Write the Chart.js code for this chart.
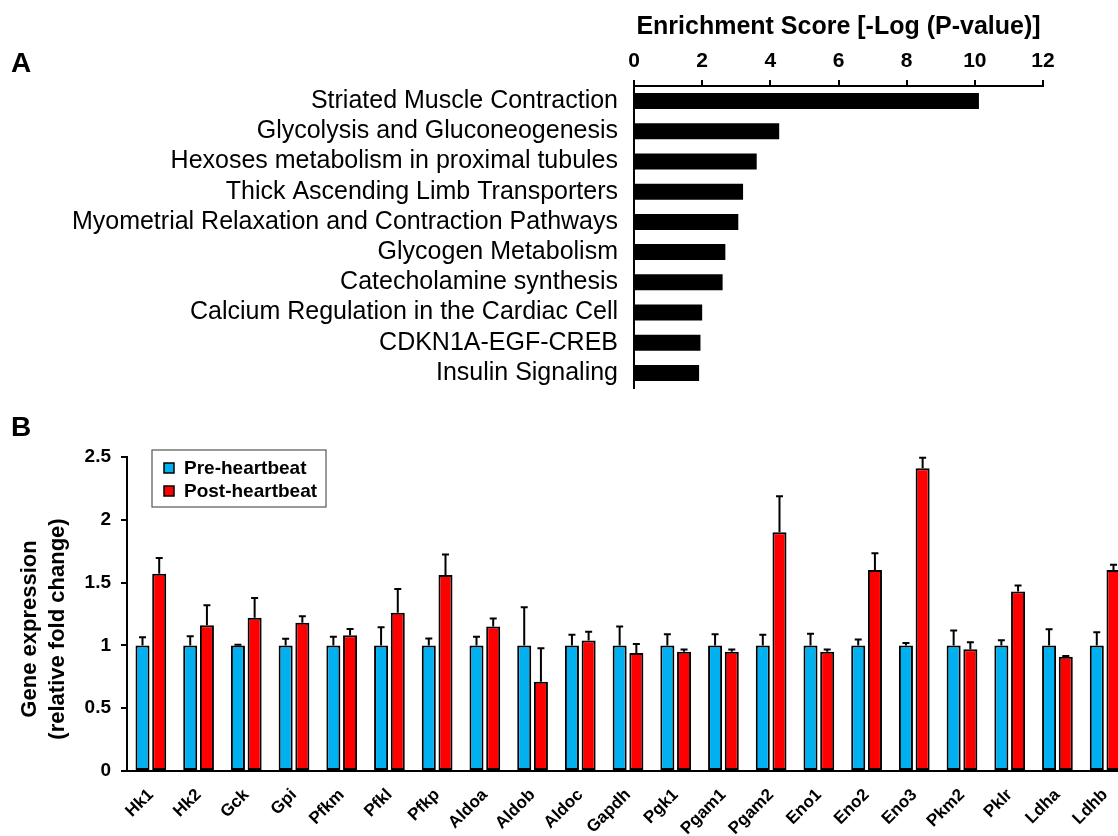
<!DOCTYPE html>
<html>
<head>
<meta charset="utf-8">
<script src="https://cdn.jsdelivr.net/npm/chart.js@4"></script>
<style>
  html, body { margin: 0; padding: 0; background: #fff; overflow: hidden; }
  #page { position: relative; width: 1118px; height: 836px; overflow: hidden; font-family: "Liberation Sans", Arial, sans-serif; }
  .panel-letter { position: absolute; font-weight: bold; font-size: 28px; line-height: normal; color: #000; }
  #chartA { position: absolute; left: 0; top: 0; }
  #chartB { position: absolute; left: 0; top: 400px; }
</style>
</head>
<body>
<div id="page">
  <canvas id="chartA" width="1118" height="400"></canvas>
  <canvas id="chartB" width="1130" height="436"></canvas>
  <div class="panel-letter" style="left:11px; top:47px;">A</div>
  <div class="panel-letter" style="left:11px; top:411px;">B</div>
</div>
<script>
// Panel A: pathway enrichment
const pathways = [
    'Striated Muscle Contraction',
    'Glycolysis and Gluconeogenesis',
    'Hexoses metabolism in proximal tubules',
    'Thick Ascending Limb Transporters',
    'Myometrial Relaxation and Contraction Pathways',
    'Glycogen Metabolism',
    'Catecholamine synthesis',
    'Calcium Regulation in the Cardiac Cell',
    'CDKN1A-EGF-CREB',
    'Insulin Signaling'
];
const enrichment = [10.12, 4.26, 3.6, 3.2, 3.06, 2.68, 2.6, 2.0, 1.95, 1.91];

// Panel B: gene expression
const genes = ['Hk1', 'Hk2', 'Gck', 'Gpi', 'Pfkm', 'Pfkl', 'Pfkp', 'Aldoa', 'Aldob', 'Aldoc',
    'Gapdh', 'Pgk1', 'Pgam1', 'Pgam2', 'Eno1', 'Eno2', 'Eno3', 'Pkm2', 'Pklr', 'Ldha', 'Ldhb'];
const preValues = [1, 1, 1, 1, 1, 1, 1, 1, 1, 1, 1, 1, 1, 1, 1, 1, 1, 1, 1, 1, 1];
const preErrors = [0.065, 0.073, 0.005, 0.052, 0.068, 0.145, 0.054, 0.068, 0.304, 0.084,
    0.15, 0.089, 0.089, 0.084, 0.092, 0.046, 0.02, 0.118, 0.041, 0.129, 0.105];
const postValues = [1.57, 1.16, 1.22, 1.18, 1.08, 1.26, 1.56, 1.15, 0.71, 1.04,
    0.94, 0.95, 0.95, 1.9, 0.95, 1.6, 2.41, 0.97, 1.43, 0.91, 1.6];
const postErrors = [0.125, 0.16, 0.158, 0.053, 0.05, 0.19, 0.163, 0.064, 0.268, 0.069,
    0.071, 0.018, 0.018, 0.287, 0.018, 0.133, 0.085, 0.056, 0.046, 0.006, 0.043];
const yTicksB = [0, 0.5, 1, 1.5, 2, 2.5];
const yTitleB = ['Gene expression', '(relative fold change)'];

const FONT = '"Liberation Sans", Arial, sans-serif';
Chart.defaults.font.family = FONT;
Chart.defaults.color = '#000';

// keep the plot area where it is, no extra room for edge labels
const noEdgePad = s => { s.paddingTop = 0; s.paddingBottom = 0; s.paddingLeft = 0; s.paddingRight = 0; };

new Chart(document.getElementById('chartA').getContext('2d'), {
    type: 'bar',
    data: {
        labels: pathways,
        datasets: [{
            data: enrichment,
            backgroundColor: '#000',
            borderWidth: 0,
            barPercentage: 0.53,
            categoryPercentage: 1
        }]
    },
    options: {
        indexAxis: 'y',
        responsive: false,
        animation: false,
        layout: { padding: { left: 0, right: 75, top: 0, bottom: 12 } },
        plugins: { legend: { display: false }, tooltip: { enabled: false } },
        scales: {
            x: {
                position: 'top',
                min: 0, max: 12,
                ticks: { stepSize: 2, font: { size: 21, weight: 'bold' }, padding: 6 },
                grid: { drawOnChartArea: false, drawTicks: true, tickLength: 6, color: '#000', lineWidth: 2 },
                border: { color: '#000', width: 2 },
                title: {
                    display: true,
                    text: 'Enrichment Score [-Log (P-value)]',
                    font: { size: 25, weight: 'bold' },
                    padding: { top: 12, bottom: 0 }
                },
                afterFit: s => { s.height = 86; noEdgePad(s); }
            },
            y: {
                ticks: { font: { size: 25 }, padding: 8, autoSkip: false },
                grid: { display: false },
                border: { color: '#000', width: 2 },
                afterFit: s => { s.width = 634; noEdgePad(s); }
            }
        }
    }
});

// draws upward error bars for each dataset
const errorBars = {
    id: 'errorBars',
    afterDatasetsDraw(chart) {
        const ctx = chart.ctx;
        const yScale = chart.scales.y;
        chart.data.datasets.forEach((ds, i) => {
            const meta = chart.getDatasetMeta(i);
            meta.data.forEach((bar, j) => {
                const top = yScale.getPixelForValue(ds.data[j] + ds.errors[j]);
                ctx.save();
                ctx.strokeStyle = '#000';
                ctx.lineWidth = 2;
                ctx.beginPath();
                ctx.moveTo(bar.x, bar.y);
                ctx.lineTo(bar.x, top);
                ctx.moveTo(bar.x - 3.5, top);
                ctx.lineTo(bar.x + 3.5, top);
                ctx.stroke();
                ctx.restore();
            });
        });
    }
};

// boxed legend inside the plot, top left
const boxLegend = {
    id: 'boxLegend',
    afterDraw(chart) {
        const ctx = chart.ctx;
        const a = chart.chartArea;
        const x = a.left + 25, y = a.top - 7;
        ctx.save();
        ctx.fillStyle = '#fff';
        ctx.fillRect(x, y, 174, 57);
        ctx.strokeStyle = '#555';
        ctx.lineWidth = 1.2;
        ctx.strokeRect(x, y, 174, 57);
        ctx.font = 'bold 19px ' + FONT;
        ctx.textBaseline = 'middle';
        chart.data.datasets.forEach((ds, i) => {
            const cy = y + 18 + i * 23;
            ctx.fillStyle = ds.backgroundColor;
            ctx.fillRect(x + 12, cy - 5, 10, 10);
            ctx.strokeStyle = '#000';
            ctx.lineWidth = 1.5;
            ctx.strokeRect(x + 12, cy - 5, 10, 10);
            ctx.fillStyle = '#000';
            ctx.fillText(ds.label, x + 32, cy + 1);
        });
        ctx.restore();
    }
};

// two-line rotated y title, sits a little below the middle of the axis
const yTitle = {
    id: 'yTitle',
    afterDraw(chart) {
        const ctx = chart.ctx;
        const a = chart.chartArea;
        const cy = (a.top + a.bottom) / 2 + 15;
        ctx.save();
        ctx.font = 'bold 22px ' + FONT;
        ctx.fillStyle = '#000';
        ctx.textAlign = 'center';
        ctx.textBaseline = 'middle';
        yTitleB.forEach((line, i) => {
            ctx.save();
            ctx.translate(30 + i * 28, cy);
            ctx.rotate(-Math.PI / 2);
            ctx.fillText(line, 0, 0);
            ctx.restore();
        });
        ctx.restore();
    }
};

new Chart(document.getElementById('chartB').getContext('2d'), {
    type: 'bar',
    data: {
        labels: genes,
        datasets: [
            {
                label: 'Pre-heartbeat',
                data: preValues,
                errors: preErrors,
                backgroundColor: '#00B0F0',
                borderColor: '#000',
                borderWidth: 2,
                borderSkipped: false,
                barPercentage: 0.84,
                categoryPercentage: 0.7
            },
            {
                label: 'Post-heartbeat',
                data: postValues,
                errors: postErrors,
                backgroundColor: '#FF0000',
                borderColor: '#000',
                borderWidth: 2,
                borderSkipped: false,
                barPercentage: 0.84,
                categoryPercentage: 0.7
            }
        ]
    },
    options: {
        responsive: false,
        animation: false,
        layout: { padding: { left: 0, right: 1, top: 57, bottom: 0 } },
        plugins: { legend: { display: false }, tooltip: { enabled: false } },
        scales: {
            x: {
                ticks: { font: { size: 17, weight: 'bold' }, maxRotation: 45, minRotation: 45, padding: 6, autoSkip: false },
                grid: { display: false },
                border: { color: '#000', width: 2 },
                afterFit: s => { s.height = 65; noEdgePad(s); }
            },
            y: {
                min: 0, max: 2.5,
                afterBuildTicks: s => { s.ticks = yTicksB.map(v => ({ value: v })); },
                ticks: { font: { size: 19, weight: 'bold' }, padding: 10, callback: v => String(v) },
                grid: { drawOnChartArea: false, drawTicks: true, tickLength: 6, color: '#000', lineWidth: 2 },
                border: { color: '#000', width: 2 },
                afterFit: s => { s.width = 127; noEdgePad(s); }
            }
        }
    },
    plugins: [errorBars, boxLegend, yTitle]
});
</script>
</body>
</html>
